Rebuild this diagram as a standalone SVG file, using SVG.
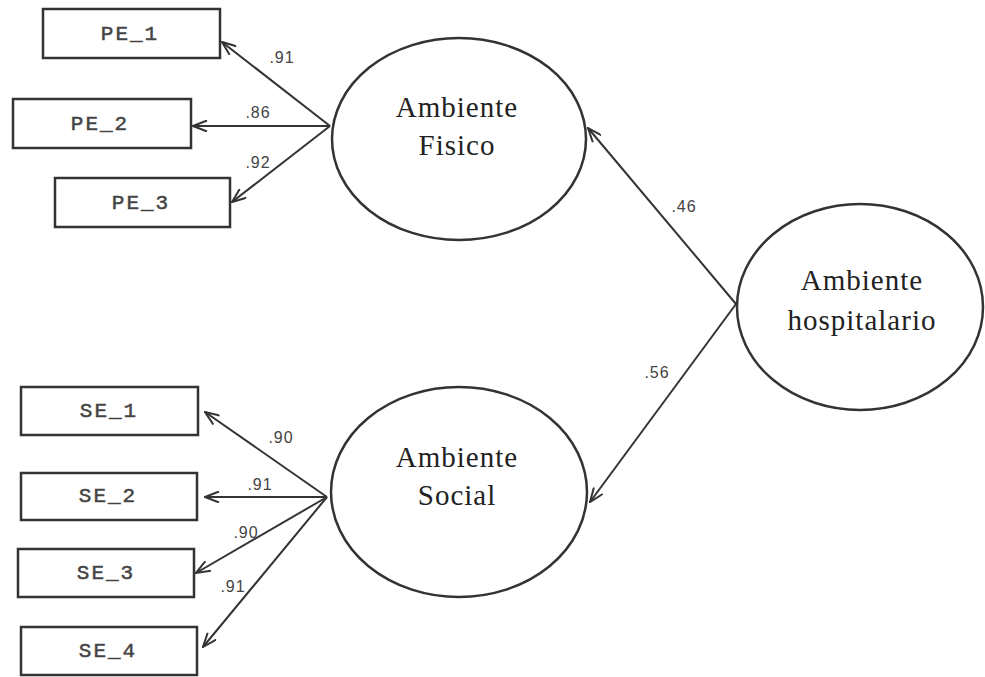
<svg xmlns="http://www.w3.org/2000/svg" width="985" height="677" viewBox="0 0 985 677">
<defs>
<marker id="arr" viewBox="0 0 16 12" refX="15" refY="6" markerWidth="16" markerHeight="12" markerUnits="userSpaceOnUse" orient="auto">
<path d="M1,0.5 L15,6 L1,11.5" fill="none" stroke="#333" stroke-width="2"/>
</marker>
</defs>
<style>
.box{fill:#fff;stroke:#333;stroke-width:2.5}
.ell{fill:#fff;stroke:#333;stroke-width:2.5}
.bt{font-family:"Liberation Mono","DejaVu Sans Mono",monospace;font-size:21px;fill:#444;stroke:#444;stroke-width:0.5;text-anchor:middle;letter-spacing:2px}
.et{font-family:"Liberation Serif","Times New Roman",serif;font-size:29px;fill:#222;text-anchor:middle;letter-spacing:1px}
.lb{font-family:"Liberation Sans",Arial,sans-serif;font-size:16px;fill:#444;text-anchor:middle;letter-spacing:1px}
.cn line{stroke:#333;stroke-width:2;marker-end:url(#arr)}
</style>
<rect width="985" height="677" fill="#fff"/>
<g id="connectors" class="cn">
<line x1="330" y1="126" x2="222" y2="42"/>
<line x1="330" y1="126" x2="193" y2="126"/>
<line x1="330" y1="126" x2="232" y2="202"/>
<line x1="327" y1="497" x2="205" y2="412"/>
<line x1="327" y1="497" x2="205" y2="497"/>
<line x1="327" y1="497" x2="196" y2="573"/>
<line x1="327" y1="497" x2="203" y2="647"/>
<line x1="736" y1="304" x2="588" y2="128"/>
<line x1="736" y1="304" x2="590" y2="502"/>
</g>
<g id="labels">
<text class="lb" x="282" y="63">.91</text>
<text class="lb" x="258" y="118">.86</text>
<text class="lb" x="258" y="168">.92</text>
<text class="lb" x="281" y="443">.90</text>
<text class="lb" x="260" y="490">.91</text>
<text class="lb" x="246" y="538">.90</text>
<text class="lb" x="233" y="592">.91</text>
<text class="lb" x="684" y="212">.46</text>
<text class="lb" x="657" y="378">.56</text>
</g>
<g id="PE_1"><rect class="box" x="43" y="9" width="177" height="49"/><text class="bt" x="130" y="40">PE_1</text></g>
<g id="PE_2"><rect class="box" x="13" y="99" width="178" height="49"/><text class="bt" x="100" y="130">PE_2</text></g>
<g id="PE_3"><rect class="box" x="55" y="178" width="175" height="49"/><text class="bt" x="141" y="209">PE_3</text></g>
<g id="SE_1"><rect class="box" x="21" y="387" width="177" height="48"/><text class="bt" x="109" y="417">SE_1</text></g>
<g id="SE_2"><rect class="box" x="21" y="473" width="176" height="47"/><text class="bt" x="108" y="502">SE_2</text></g>
<g id="SE_3"><rect class="box" x="18" y="549" width="176" height="48"/><text class="bt" x="106" y="579">SE_3</text></g>
<g id="SE_4"><rect class="box" x="21" y="627" width="176" height="48"/><text class="bt" x="108" y="657">SE_4</text></g>
<g id="AmbienteFisico"><ellipse class="ell" cx="459" cy="139" rx="127" ry="101"/><text class="et" x="457" y="117">Ambiente</text><text class="et" x="457" y="155">Fisico</text></g>
<g id="AmbienteSocial"><ellipse class="ell" cx="459" cy="492" rx="128" ry="105"/><text class="et" x="457" y="467">Ambiente</text><text class="et" x="457" y="505">Social</text></g>
<g id="AmbienteHospitalario"><ellipse class="ell" cx="860" cy="307" rx="123" ry="103"/><text class="et" x="862" y="290">Ambiente</text><text class="et" x="862" y="330">hospitalario</text></g>
</svg>
